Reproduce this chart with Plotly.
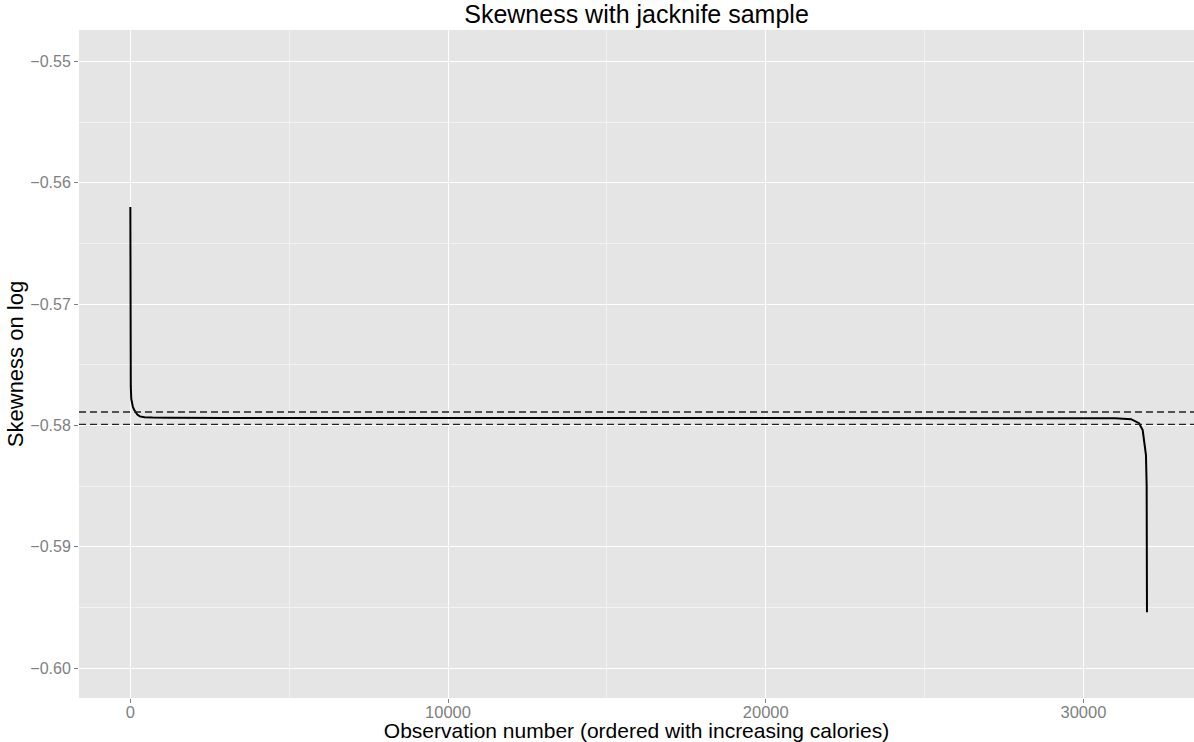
import plotly.graph_objects as go

# Observation number (ordered with increasing calories)
obs = [1, 5, 15, 30, 50, 80, 120, 160, 220, 300, 450, 700, 1200, 3000, 6000,
       10000, 15000, 20000, 25000, 28000, 30000, 31000, 31500, 31750, 31865,
       31930, 31968, 31990, 31997, 32000]
# Jackknife skewness on log
skew = [-0.5620, -0.5750, -0.5768, -0.5778, -0.5783, -0.57846, -0.57870, -0.57888,
        -0.57910, -0.57925, -0.57932, -0.57935, -0.57937, -0.57938, -0.57938,
        -0.57938, -0.57937, -0.57936, -0.57935, -0.57935, -0.57937, -0.57940,
        -0.57948, -0.57981, -0.58038, -0.58150, -0.58244, -0.58500, -0.58800,
        -0.59538]
# Reference (dashed) lines
ref_lines = [-0.57889, -0.57991]

x_ticks = [0, 10000, 20000, 30000]
y_ticks = [-0.60, -0.59, -0.58, -0.57, -0.56, -0.55]

FONT = "Liberation Sans, Arial, sans-serif"

fig = go.Figure()
fig.add_trace(go.Scatter(x=obs, y=skew, mode="lines",
                         line=dict(color="black", width=2),
                         showlegend=False, hoverinfo="skip"))
for v in ref_lines:
    fig.add_hline(y=v, line=dict(color="#222222", width=1.4, dash="7px,4px"))

fig.update_layout(
    width=1194, height=742,
    margin=dict(l=79, r=0, t=30, b=44),
    paper_bgcolor="white", plot_bgcolor="#E5E5E5",
    font=dict(family=FONT),
    title=dict(text="Skewness with jacknife sample", x=0.5, xref="paper",
               y=1 - 14 / 742, yref="container", yanchor="middle", xanchor="center",
               font=dict(size=25, color="black", family=FONT)),
)
fig.update_xaxes(
    range=[-1615, 33480], tickvals=x_ticks, ticktext=[str(t) for t in x_ticks],
    showgrid=True, gridcolor="white", gridwidth=1.4, zeroline=False,
    ticks="outside", ticklen=4, tickwidth=1, tickcolor="#7F7F7F",
    tickfont=dict(size=16.5, color="#7F7F7F", family=FONT),
    ticklabelstandoff=-5,
    minor=dict(dtick=5000, tick0=0, showgrid=True, gridcolor="#F2F2F2", gridwidth=1, ticks=""),
    showline=False,
    title=dict(text="Observation number (ordered with increasing calories)",
               font=dict(size=21, color="black", family=FONT), standoff=0),
    automargin=False,
)
fig.update_yaxes(
    range=[-0.60245, -0.54742], tickvals=y_ticks, ticktext=[f"{t:.2f}".replace("-", "\u2212") for t in y_ticks],
    showgrid=True, gridcolor="white", gridwidth=1.4, zeroline=False,
    ticks="outside", ticklen=4, tickwidth=1, tickcolor="#7F7F7F",
    tickfont=dict(size=16, color="#7F7F7F", family=FONT),
    minor=dict(dtick=0.005, tick0=0, showgrid=True, gridcolor="#F2F2F2", gridwidth=1, ticks=""),
    showline=False,
    title=dict(text="Skewness on log", font=dict(size=22, color="black", family=FONT), standoff=0),
    automargin=False,
)

fig.write_html("out.html")
